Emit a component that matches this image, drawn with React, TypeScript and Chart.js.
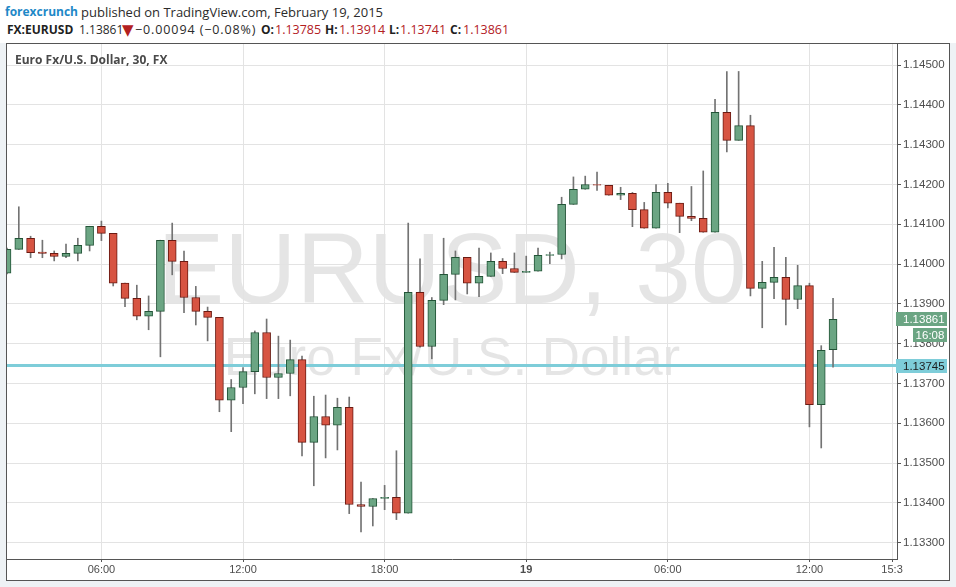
import React, { useEffect, useRef } from "react";
import { Chart, registerables } from "chart.js";

Chart.register(...registerables);

// 30-minute candles, Feb 18 02:00 -> Feb 19 13:00
const OPEN = [
  1.13977, 1.14037, 1.14065, 1.1403, 1.14027, 1.14019, 1.14027, 1.14047, 1.14095, 1.14077,
  1.13952, 1.13914, 1.13869, 1.13881, 1.1406, 1.14007, 1.13916, 1.13881, 1.13866, 1.13658,
  1.1369, 1.1373, 1.13828, 1.13715, 1.13725, 1.1376, 1.13552, 1.13617, 1.13595, 1.1364,
  1.13396, 1.13391, 1.13411, 1.13414, 1.13374, 1.13929, 1.13793, 1.13909, 1.13974, 1.14017,
  1.13952, 1.13969, 1.14007, 1.13989, 1.13979, 1.13982, 1.14022, 1.14024, 1.1415, 1.14188,
  1.142, 1.14198, 1.14173, 1.14178, 1.14137, 1.1409, 1.1418, 1.14153, 1.1412, 1.14115,
  1.1408, 1.14381, 1.14311, 1.14348, 1.13939, 1.13954, 1.13967, 1.13911, 1.13946, 1.13647,
  1.13785,
];
const HIGH = [
  1.1404, 1.14144, 1.1407, 1.1406, 1.14033, 1.1405, 1.14065, 1.14095, 1.14108, 1.14077,
  1.13952, 1.13947, 1.1392, 1.1406, 1.14103, 1.14033, 1.13944, 1.13892, 1.13866, 1.1371,
  1.1374, 1.13832, 1.13862, 1.13819, 1.13809, 1.13769, 1.13668, 1.13671, 1.13663, 1.13666,
  1.13452, 1.13411, 1.13444, 1.13531, 1.14103, 1.14013, 1.13916, 1.14065, 1.14033, 1.14017,
  1.1404, 1.14028, 1.14014, 1.14028, 1.1402, 1.1404, 1.1403, 1.14168, 1.14219, 1.14221,
  1.14231, 1.14198, 1.14193, 1.1418, 1.14155, 1.142, 1.14203, 1.14153, 1.14195, 1.14234,
  1.14414, 1.14484, 1.14484, 1.14374, 1.14007, 1.14042, 1.14017, 1.13997, 1.13952, 1.13795,
  1.13914,
];
const LOW = [
  1.13975, 1.14037, 1.14016, 1.14016, 1.14008, 1.14016, 1.14008, 1.14033, 1.14059, 1.13945,
  1.13893, 1.1386, 1.13835, 1.13767, 1.13973, 1.13878, 1.13847, 1.13807, 1.13629, 1.13579,
  1.13649, 1.13674, 1.13662, 1.13662, 1.13669, 1.13518, 1.13443, 1.13513, 1.13533, 1.13373,
  1.13327, 1.13342, 1.13383, 1.13358, 1.13374, 1.13791, 1.13762, 1.13898, 1.1391, 1.13925,
  1.13918, 1.13969, 1.13976, 1.13979, 1.13979, 1.13982, 1.14001, 1.14013, 1.1415, 1.14188,
  1.14185, 1.14173, 1.14162, 1.14094, 1.1409, 1.1409, 1.14141, 1.14079, 1.14109, 1.1408,
  1.1408, 1.14282, 1.14311, 1.1392, 1.1384, 1.13913, 1.13847, 1.13888, 1.13591, 1.13538,
  1.13741,
];
const CLOSE = [
  1.14037, 1.14065, 1.14029, 1.14027, 1.14019, 1.14027, 1.14047, 1.14095, 1.14077, 1.13952,
  1.13914, 1.13869, 1.13881, 1.1406, 1.14007, 1.13916, 1.13881, 1.13866, 1.13658, 1.1369,
  1.1373, 1.13828, 1.13715, 1.13725, 1.1376, 1.13552, 1.13617, 1.13595, 1.1364, 1.13396,
  1.13391, 1.13411, 1.13414, 1.13374, 1.13929, 1.13793, 1.13909, 1.13974, 1.14017, 1.13952,
  1.13969, 1.14007, 1.13989, 1.13979, 1.13982, 1.14022, 1.14024, 1.1415, 1.14188, 1.142,
  1.14198, 1.14173, 1.14178, 1.14137, 1.1409, 1.1418, 1.14153, 1.1412, 1.14115, 1.1408,
  1.14381, 1.14311, 1.14348, 1.13939, 1.13954, 1.13967, 1.13911, 1.13946, 1.13647, 1.13783,
  1.13861,
];

const X_MIN = 0;
const X_MAX = 75.42;
const X_TICKS = [8, 20, 32, 44, 56, 68, 75];
const X_LABELS = ["06:00", "12:00", "18:00", "19", "06:00", "12:00", "15:3"];
const X_BOLD_TICK = 44;

const Y_MIN = 1.13259;
const Y_MAX = 1.14553;
const Y_TICKS = [
  1.133, 1.134, 1.135, 1.136, 1.137, 1.138, 1.139, 1.14, 1.141, 1.142, 1.143, 1.144, 1.145,
];

const LAST_PRICE = 1.13861;
const COUNTDOWN = "16:08";
const REF_PRICE = 1.13745;

const WATERMARK = "EURUSD, 30";
const WATERMARK_SUB = "Euro Fx/U.S. Dollar";
const SYMBOL_TITLE = "Euro Fx/U.S. Dollar, 30, FX";

const CHANGE_TEXT = "\u22120.00094 (\u22120.08%)";

const UP_FILL = "#6ba583";
const UP_LINE = "#225437";
const DN_FILL = "#d75442";
const DN_LINE = "#6b1a12";
const WICK = "#737373";
const REF_COLOR = "#7ecdd9";
const GRID = "#e3e3e3";
const AXIS = "#555555";
const AX_FONT = "'Liberation Sans', Arial, sans-serif";
const HDR_FONT = "'Open Sans', 'Noto Sans', sans-serif";
const RED_TXT = "#b3201f";

const watermarkPlugin = {
  id: "watermark",
  beforeDraw(chart: any) {
    const { ctx, chartArea: a } = chart;
    ctx.save();
    ctx.beginPath();
    ctx.rect(a.left, a.top, a.right - a.left, a.bottom - a.top);
    ctx.clip();
    ctx.fillStyle = "rgba(0,0,0,0.1)";
    ctx.textAlign = "center";
    ctx.textBaseline = "alphabetic";
    const cx = (a.left + a.right) / 2;
    const cy = (a.top + a.bottom) / 2;
    ctx.font = `100px ${AX_FONT}`;
    ctx.fillText(WATERMARK, cx, cy + 1.5);
    ctx.font = `53px ${AX_FONT}`;
    ctx.fillText(WATERMARK_SUB, cx, cy + 73.5);
    ctx.restore();
  },
};

const priceLabelPlugin = {
  id: "priceLabels",
  afterDraw(chart: any) {
    const { ctx, chartArea: a, scales } = chart;
    const y = scales.y;
    ctx.save();
    ctx.font = `11.5px ${AX_FONT}`;
    ctx.textBaseline = "middle";
    const yl = y.getPixelForValue(LAST_PRICE);
    ctx.fillStyle = UP_FILL;
    ctx.fillRect(a.right - 1, Math.round(yl) - 7, 51, 14);
    ctx.fillStyle = "#ffffff";
    ctx.textAlign = "left";
    ctx.fillText(LAST_PRICE.toFixed(5), a.right + 6, Math.round(yl) + 0.5);
    ctx.fillStyle = UP_FILL;
    ctx.fillRect(a.right + 16, Math.round(yl) + 9, 34, 14);
    ctx.fillStyle = "#ffffff";
    ctx.textAlign = "center";
    ctx.fillText(COUNTDOWN, a.right + 33, Math.round(yl) + 16.5);
    const yr = y.getPixelForValue(REF_PRICE);
    ctx.fillStyle = REF_COLOR;
    ctx.fillRect(a.right - 1, Math.round(yr) - 7, 51, 14);
    ctx.fillStyle = "#1c1c1c";
    ctx.textAlign = "left";
    ctx.fillText(REF_PRICE.toFixed(5), a.right + 6, Math.round(yr) + 0.5);
    ctx.restore();
  },
};

export default function App() {
  const ref = useRef<HTMLCanvasElement>(null);

  useEffect(() => {
    document.body.style.margin = "0";
    const canvas = ref.current;
    if (!canvas) return;
    const bodyFill = CLOSE.map((c, i) => (c >= OPEN[i] ? UP_FILL : DN_FILL));
    const bodyLine = CLOSE.map((c, i) => (c >= OPEN[i] ? UP_LINE : DN_LINE));
    const chart = new Chart(canvas, {
      type: "bar",
      data: {
        datasets: [
          {
            type: "line",
            data: [
              { x: X_MIN, y: REF_PRICE },
              { x: X_MAX, y: REF_PRICE },
            ],
            borderColor: REF_COLOR,
            borderWidth: 3,
            pointRadius: 0,
            order: 3,
            clip: 0,
          } as any,
          {
            type: "bar",
            data: LOW.map((l, i) => ({ x: i, y: [l, HIGH[i]] })),
            backgroundColor: WICK,
            barThickness: 1,
            grouped: false,
            order: 2,
          } as any,
          {
            type: "bar",
            data: OPEN.map((o, i) => ({ x: i, y: [o, CLOSE[i]] })),
            backgroundColor: bodyFill,
            borderColor: bodyLine,
            borderWidth: 1,
            borderSkipped: false,
            barThickness: 8,
            grouped: false,
            order: 1,
          } as any,
        ],
      },
      options: {
        responsive: false,
        animation: false,
        events: [],
        layout: { padding: 0 },
        plugins: {
          legend: { display: false },
          tooltip: { enabled: false },
        },
        scales: {
          x: {
            type: "linear",
            min: X_MIN,
            max: X_MAX,
            offset: false,
            afterBuildTicks: (s: any) => {
              s.ticks = X_TICKS.map((v) => ({ value: v }));
            },
            afterFit: (s: any) => {
              s.height = 21;
              s.paddingLeft = 0;
              s.paddingRight = 0;
            },
            grid: { color: GRID, tickColor: AXIS, tickLength: 3, offset: false },
            border: { color: AXIS, width: 1 },
            ticks: {
              autoSkip: false,
              maxRotation: 0,
              padding: 1,
              color: "#4d4d4d",
              font: (c: any) => ({
                family: AX_FONT,
                size: 11,
                weight: c.tick && c.tick.value === X_BOLD_TICK ? "bold" : "normal",
              }),
              callback: (v: any) => X_LABELS[X_TICKS.indexOf(Number(v))],
            },
          },
          y: {
            type: "linear",
            position: "right",
            min: Y_MIN,
            max: Y_MAX,
            afterBuildTicks: (s: any) => {
              s.ticks = Y_TICKS.map((v) => ({ value: v }));
            },
            afterFit: (s: any) => {
              s.width = 52;
              s.paddingTop = 0;
              s.paddingBottom = 0;
            },
            grid: { color: GRID, tickColor: AXIS, tickLength: 4 },
            border: { color: AXIS, width: 1 },
            ticks: {
              padding: 2,
              color: "#4d4d4d",
              font: { family: AX_FONT, size: 11.5 },
              callback: (v: any) => Number(v).toFixed(5),
            },
          },
        } as any,
      },
      plugins: [watermarkPlugin, priceLabelPlugin],
    } as any);
    return () => chart.destroy();
  }, []);

  const last = OPEN.length - 1;
  const hdr: React.CSSProperties = {
    position: "absolute",
    fontFamily: HDR_FONT,
    fontSize: 12.5,
    lineHeight: "16px",
    whiteSpace: "nowrap",
    color: "#2b2b2b",
  };
  const bold: React.CSSProperties = { ...hdr, fontSize: 12, fontWeight: "bold", color: "#1f1f1f" };
  const red: React.CSSProperties = { ...hdr, color: RED_TXT };

  return (
    <div
      style={{
        position: "relative",
        width: 956,
        height: 587,
        background: "#eef2f5",
        overflow: "hidden",
      }}
    >
      <div style={{ position: "absolute", left: 0, top: 0, width: 956, height: 43, background: "#ffffff" }} />
      <span style={{ ...hdr, left: 5, top: 4, fontSize: 12, fontWeight: "bold", color: "#1e88c7" }}>forexcrunch</span>
      <span style={{ ...hdr, left: 81, top: 4, fontSize: 13 }}>published on TradingView.com, February 19, 2015</span>

      <span style={{ ...bold, left: 7, top: 22 }}>FX:EURUSD</span>
      <span style={{ ...hdr, left: 79, top: 22, fontSize: 12 }}>{CLOSE[last].toFixed(5)}</span>
      <span
        style={{
          ...hdr,
          left: 122,
          top: 21,
          color: RED_TXT,
          fontSize: 15,
          lineHeight: "18px",
          fontFamily: "'DejaVu Sans', sans-serif",
        }}
      >
        {"\u25BC"}
      </span>
      <span style={{ ...hdr, left: 135, top: 22, letterSpacing: 0.9 }}>{CHANGE_TEXT}</span>
      <span style={{ ...bold, left: 261, top: 22 }}>O:</span>
      <span style={{ ...red, left: 275, top: 22 }}>{OPEN[last].toFixed(5)}</span>
      <span style={{ ...bold, left: 325, top: 22 }}>H:</span>
      <span style={{ ...red, left: 339, top: 22 }}>{HIGH[last].toFixed(5)}</span>
      <span style={{ ...bold, left: 389, top: 22 }}>L:</span>
      <span style={{ ...red, left: 400, top: 22 }}>{LOW[last].toFixed(5)}</span>
      <span style={{ ...bold, left: 450, top: 22 }}>C:</span>
      <span style={{ ...red, left: 463, top: 22 }}>{CLOSE[last].toFixed(5)}</span>

      <div
        style={{
          position: "absolute",
          left: 6,
          top: 43,
          width: 942,
          height: 536,
          border: "1px solid #555555",
          background: "#ffffff",
        }}
      >
        <canvas ref={ref} width={942} height={536} style={{ display: "block", width: 942, height: 536 }} />
        <span
          style={{
            position: "absolute",
            left: 8,
            top: 9,
            fontFamily: HDR_FONT,
            fontSize: 12,
            lineHeight: "14px",
            fontWeight: "bold",
            color: "#4a4a4a",
            whiteSpace: "nowrap",
          }}
        >
          {SYMBOL_TITLE}
        </span>
      </div>
    </div>
  );
}
